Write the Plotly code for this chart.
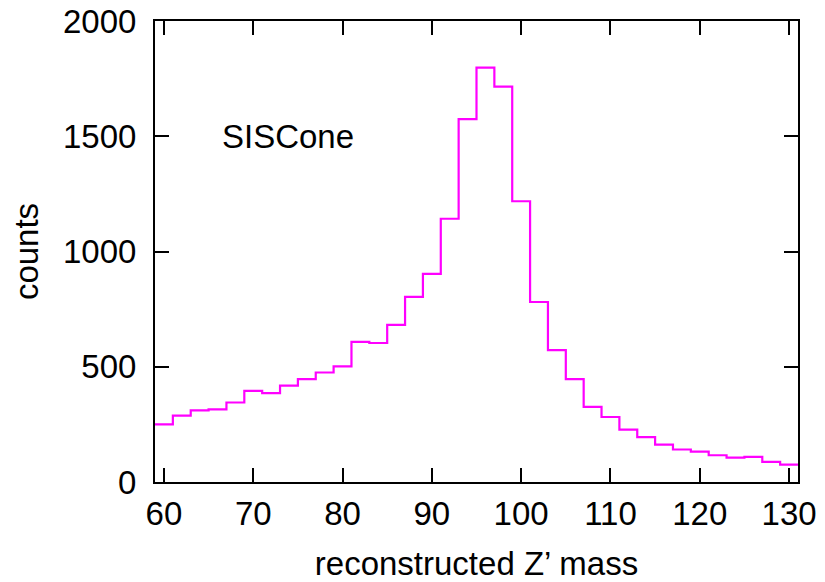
import plotly.graph_objects as go

# Histogram data (bin width 2, centers 60..130)
bin_centers = [60, 62, 64, 66, 68, 70, 72, 74, 76, 78, 80, 82, 84, 86, 88, 90,
               92, 94, 96, 98, 100, 102, 104, 106, 108, 110, 112, 114, 116, 118,
               120, 122, 124, 126, 128, 130]
counts = [250, 288, 311, 315, 345, 395, 386, 418, 446, 475, 502, 608, 603, 682,
          803, 903, 1142, 1574, 1798, 1715, 1218, 781, 572, 446, 326, 282, 227,
          195, 162, 141, 132, 116, 106, 109, 87, 75]
bin_width = 2
x_ticks = [60, 70, 80, 90, 100, 110, 120, 130]
y_ticks = [0, 500, 1000, 1500, 2000]

# step outline from bin edges
edges = [c - bin_width / 2 for c in bin_centers] + [bin_centers[-1] + bin_width / 2]
step_y = counts + [counts[-1]]

FONT = "Liberation Sans, Arial, sans-serif"
FS = 33

fig = go.Figure()
fig.add_trace(go.Scatter(
    x=edges, y=step_y, mode="lines", line_shape="hv",
    line=dict(color="#ff00ff", width=2.2), showlegend=False, hoverinfo="skip",
))

fig.add_annotation(x=66.3, y=1500, xref="x", yref="y", text="SISCone",
                   showarrow=False, xanchor="left", yanchor="middle",
                   font=dict(family=FONT, size=FS, color="black"))

axis_common = dict(showline=True, linecolor="black", linewidth=2, mirror="ticks",
                   ticks="inside", ticklen=14, tickwidth=2, tickcolor="black",
                   showgrid=False, zeroline=False, automargin=False,
                   ticklabeloverflow="allow",
                   tickfont=dict(family=FONT, size=FS, color="black"))

fig.update_xaxes(range=[59, 131], tickvals=x_ticks, ticklabelstandoff=1,
                 title=dict(text="reconstructed Z’ mass", standoff=22,
                            font=dict(family=FONT, size=FS, color="black")),
                 **axis_common)
fig.update_yaxes(range=[0, 2000], tickvals=y_ticks, ticklabelstandoff=10,
                 title=dict(text="counts", standoff=18,
                            font=dict(family=FONT, size=FS, color="black")),
                 **axis_common)

# page body has an 8px margin, so the figure is sized to fit the window
fig.update_layout(width=817, height=574, plot_bgcolor="white", paper_bgcolor="white",
                  margin=dict(l=147, r=27, t=13, b=100),
                  font=dict(family=FONT, size=FS, color="black"))

fig.write_html("out.html")
